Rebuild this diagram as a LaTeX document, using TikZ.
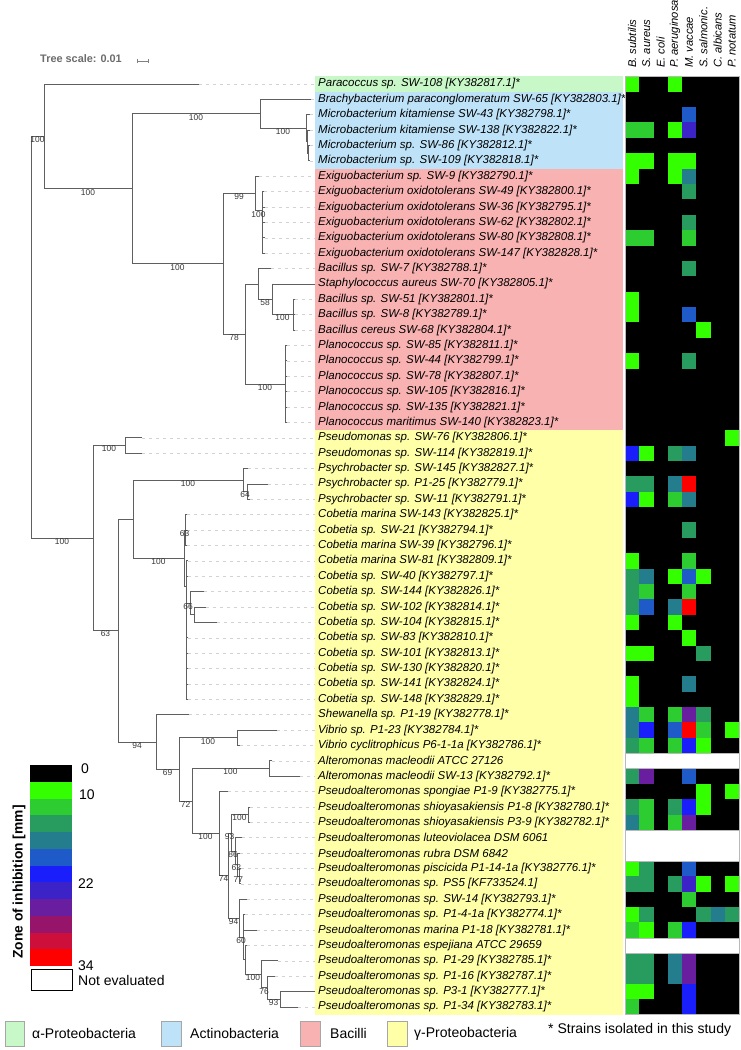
\documentclass[tikz,border=0pt]{standalone}
\usepackage{fontspec}
\setmainfont{Liberation Sans}
\usetikzlibrary{calc}
\definecolor{brc}{RGB}{95,95,95}
\definecolor{guidec}{RGB}{210,210,210}
\definecolor{bslc}{RGB}{55,55,55}
\definecolor{alphaC}{RGB}{200,248,200}
\definecolor{actC}{RGB}{190,226,248}
\definecolor{bacC}{RGB}{248,178,178}
\definecolor{gamC}{RGB}{255,255,168}
\definecolor{hm1}{RGB}{51,255,0}
\definecolor{hm2}{RGB}{45,205,50}
\definecolor{hm3}{RGB}{40,155,95}
\definecolor{hm4}{RGB}{35,125,140}
\definecolor{hm5}{RGB}{30,90,200}
\definecolor{hm6}{RGB}{25,30,250}
\definecolor{hm7}{RGB}{60,35,200}
\definecolor{hm8}{RGB}{105,30,160}
\definecolor{hm9}{RGB}{150,20,105}
\definecolor{hm10}{RGB}{205,15,60}
\definecolor{hm11}{RGB}{255,0,0}
\newcommand{\tvl}[3]{\draw[br] (#1 |- #2) -- (#1 |- #3);}
\newcommand{\thb}[2]{\draw[br] (#1 |- #2) -- (#2);}
\newcommand{\tbs}[3]{\path ($(#1 |- #2)!0.5!(#2)$) node[bsl] {#3};}
\begin{document}
\begin{tikzpicture}[x=1pt,y=-1pt,
  br/.style={draw=brc,line width=0.9pt,line cap=rect},
  bsl/.style={font=\fontsize{8.4}{9}\selectfont,text=bslc,inner sep=0.2pt,anchor=north},
  lbl/.style={font=\fontsize{11.5}{13}\selectfont\itshape,anchor=west,inner sep=0pt,text=black},
  hdr/.style={font=\fontsize{11.2}{12}\selectfont\itshape,anchor=west,inner sep=0pt,rotate=90},
  guide/.style={draw=guidec,line width=0.6pt,dash pattern=on 3pt off 4pt},
  leg/.style={font=\fontsize{14}{16}\selectfont,anchor=west,inner sep=0pt},
  legbox/.style={draw=gray!70,line width=0.6pt}]
\fill[white] (0,0) rectangle (740,1050);
\useasboundingbox (0,0) rectangle (740,1050);

% tree scale
\node[font=\bfseries\fontsize{10.9}{12}\selectfont,text=gray!85!black,anchor=west,inner sep=0pt] (ts) at (40,59) {Tree scale: 0.01};
\coordinate (sb1) at (137,61); \coordinate (sb2) at (148,61);
\draw[gray,line width=0.6pt] (sb1) -- (sb2);
\draw[gray,line width=0.6pt] ($(sb1)+(0,-2)$) -- ($(sb1)+(0,2)$);
\draw[gray,line width=0.6pt] ($(sb2)+(0,-2)$) -- ($(sb2)+(0,2)$);

% label bands
\fill[alphaC] (315,76.31) rectangle (623,91.69);
\fill[actC] (315,91.69) rectangle (623,168.61);
\fill[bacC] (315,168.61) rectangle (623,430.11);
\fill[gamC] (315,430.11) rectangle (623,1014.69);

% tips and guide lines
\foreach \i/\x in {1/199,2/311,3/309.5,4/309.5,5/309.5,6/309.5,7/259,8/264,9/264.5,10/264.5,11/264.5,12/264.5,13/271,14/315,15/295,16/295,17/295,18/287,19/287,20/287,21/287,22/287,23/287,24/142,25/142,26/248,27/268,28/250,29/187,30/187,31/187,32/188,33/188,34/204,35/206,36/217,37/188,38/188,39/188,40/188,41/188,42/189,43/277,44/240,45/272,46/300,47/228,48/250,49/250,50/242,51/240,52/241,53/241,54/247,55/245,56/257,57/247,58/278,59/275,60/315,61/298}
{\coordinate (t\i) at (\x,{84+(\i-1)*15.3833});
 \coordinate (g\i) at (315,{84+(\i-1)*15.3833});
 \draw[guide] (t\i) -- (g\i);}

% internal nodes
\coordinate (R) at (31,337);
\coordinate (A) at (44,136.4);
\coordinate (B) at (132,188.8);
\coordinate (C) at (260,113.8);
\coordinate (M) at (306,128.3);
\coordinate (M2) at (307,141.7);
\coordinate (M3) at (308,153.2);
\coordinate (D) at (223,263.8);
\coordinate (E) at (255,193.6);
\coordinate (E2) at (262,210.9);
\coordinate (E3) at (262.8,230.2);
\coordinate (F) at (245,334);
\coordinate (H) at (258,284.0);
\coordinate (I) at (272,299.4);
\coordinate (J) at (293,314.7);
\coordinate (P) at (285,384.0);
\coordinate (G) at (93,538.1);
\coordinate (K) at (125,445.5);
\coordinate (L) at (118,630.6);
\coordinate (N) at (133,519.0);
\coordinate (O) at (243,480.1);
\coordinate (O2) at (247,491.7);
\coordinate (Q) at (184,558);
\coordinate (Qa) at (185,530.1);
\coordinate (Qb) at (186,586);
\coordinate (Qc) at (190,603.2);
\coordinate (Qd) at (194,614.7);
\coordinate (S) at (156,742.1);
\coordinate (T) at (179,769.5);
\coordinate (U) at (237,737.8);
\coordinate (V) at (192,801.1);
\coordinate (W) at (269,768.5);
\coordinate (P0) at (219,833.6);
\coordinate (P1) at (228,875.7);
\coordinate (Pa) at (231,833.0);
\coordinate (Ep) at (248,814.7);
\coordinate (Pc) at (235,851.3);
\coordinate (Pd) at (237.5,864.7);
\coordinate (Pe) at (239,876.2);
\coordinate (Pb) at (239,918.3);
\coordinate (Pf) at (243,937.3);
\coordinate (Ph) at (245,959.9);
\coordinate (Pg) at (261,974.3);
\coordinate (Pi) at (267,987.8);
\coordinate (Pj) at (280,999.3);

% branches
\tvl{R}{A}{G} \thb{R}{A} \thb{R}{G}
\tvl{A}{t1}{B} \thb{A}{t1} \thb{A}{B}
\tvl{B}{C}{D} \thb{B}{C} \thb{B}{D}
\tvl{C}{t2}{M} \thb{C}{t2} \thb{C}{M}
\tvl{M}{t3}{M2} \thb{M}{t3} \thb{M}{M2}
\tvl{M2}{t4}{M3} \thb{M2}{t4} \thb{M2}{M3}
\tvl{M3}{t5}{t6} \thb{M3}{t5} \thb{M3}{t6}
\tvl{D}{E}{F} \thb{D}{E} \thb{D}{F}
\tvl{E}{t7}{E2} \thb{E}{t7} \thb{E}{E2}
\tvl{E2}{t8}{E3} \thb{E2}{t8} \thb{E2}{E3}
\tvl{E3}{t9}{t12} \thb{E3}{t9} \thb{E3}{t10} \thb{E3}{t11} \thb{E3}{t12}
\tvl{F}{H}{P} \thb{F}{H} \thb{F}{P}
\tvl{H}{t13}{I} \thb{H}{t13} \thb{H}{I}
\tvl{I}{t14}{J} \thb{I}{t14} \thb{I}{J}
\tvl{J}{t15}{t17} \thb{J}{t15} \thb{J}{t16} \thb{J}{t17}
\tvl{P}{t18}{t23} \thb{P}{t18} \thb{P}{t19} \thb{P}{t20} \thb{P}{t21} \thb{P}{t22} \thb{P}{t23}
\tvl{G}{K}{L} \thb{G}{K} \thb{G}{L}
\tvl{K}{t24}{t25} \thb{K}{t24} \thb{K}{t25}
\tvl{L}{N}{S} \thb{L}{N} \thb{L}{S}
\tvl{N}{O}{Q} \thb{N}{O} \thb{N}{Q}
\tvl{O}{t26}{O2} \thb{O}{t26} \thb{O}{O2}
\tvl{O2}{t27}{t28} \thb{O2}{t27} \thb{O2}{t28}
\tvl{Q}{Qa}{Qb} \thb{Q}{Qa} \thb{Q}{Qb}
\tvl{Qa}{t29}{t31} \thb{Qa}{t29} \thb{Qa}{t30} \thb{Qa}{t31}
\tvl{Qb}{t32}{t41} \thb{Qb}{t32} \thb{Qb}{t33} \thb{Qb}{Qc} \thb{Qb}{t37} \thb{Qb}{t38} \thb{Qb}{t39} \thb{Qb}{t40} \thb{Qb}{t41}
\tvl{Qc}{t34}{Qd} \thb{Qc}{t34} \thb{Qc}{Qd}
\tvl{Qd}{t35}{t36} \thb{Qd}{t35} \thb{Qd}{t36}
\tvl{S}{t42}{T} \thb{S}{t42} \thb{S}{T}
\tvl{T}{U}{V} \thb{T}{U} \thb{T}{V}
\tvl{U}{t43}{t44} \thb{U}{t43} \thb{U}{t44}
\tvl{V}{W}{P0} \thb{V}{W} \thb{V}{P0}
\tvl{W}{t45}{t46} \thb{W}{t45} \thb{W}{t46}
\tvl{P0}{t47}{P1} \thb{P0}{t47} \thb{P0}{P1}
\tvl{P1}{Pa}{Pb} \thb{P1}{Pa} \thb{P1}{Pb}
\tvl{Pa}{Ep}{Pc} \thb{Pa}{Ep} \thb{Pa}{Pc}
\tvl{Ep}{t48}{t49} \thb{Ep}{t48} \thb{Ep}{t49}
\tvl{Pc}{t50}{Pd} \thb{Pc}{t50} \thb{Pc}{Pd}
\tvl{Pd}{t51}{Pe} \thb{Pd}{t51} \thb{Pd}{Pe}
\tvl{Pe}{t52}{t53} \thb{Pe}{t52} \thb{Pe}{t53}
\tvl{Pb}{t54}{Pf} \thb{Pb}{t54} \thb{Pb}{Pf}
\tvl{Pf}{t55}{Ph} \thb{Pf}{t55} \thb{Pf}{t56} \thb{Pf}{Ph}
\tvl{Ph}{t57}{Pg} \thb{Ph}{t57} \thb{Ph}{Pg}
\tvl{Pg}{t58}{Pi} \thb{Pg}{t58} \thb{Pg}{Pi}
\tvl{Pi}{t59}{Pj} \thb{Pi}{t59} \thb{Pi}{Pj}
\tvl{Pj}{t60}{t61} \thb{Pj}{t60} \thb{Pj}{t61}

% bootstrap values
\tbs{R}{A}{100} \tbs{A}{B}{100} \tbs{B}{C}{100} \tbs{C}{M}{100} \tbs{B}{D}{100}
\tbs{D}{E}{99} \tbs{E}{E2}{100} \tbs{D}{F}{78} \tbs{H}{I}{58} \tbs{I}{J}{100}
\tbs{F}{P}{100} \tbs{R}{G}{100} \tbs{G}{K}{100} \tbs{G}{L}{63} \tbs{N}{O}{100}
\tbs{O}{O2}{64} \tbs{N}{Q}{100} \tbs{Q}{Qa}{63} \tbs{Qb}{Qc}{66} \tbs{L}{S}{94}
\tbs{S}{T}{69} \tbs{T}{U}{100} \tbs{T}{V}{72} \tbs{V}{W}{100} \tbs{V}{P0}{100}
\tbs{P0}{P1}{74} \tbs{P1}{Pa}{93} \tbs{Pa}{Ep}{100} \tbs{Pa}{Pc}{86} \tbs{Pc}{Pd}{62}
\tbs{Pd}{Pe}{77} \tbs{P1}{Pb}{94} \tbs{Pb}{Pf}{60} \tbs{Ph}{Pg}{100} \tbs{Pg}{Pi}{76}
\tbs{Pi}{Pj}{93}

% taxon labels
\foreach \lab [count=\i] in {
{Paracoccus sp. SW-108 [KY382817.1]*},
{Brachybacterium paraconglomeratum SW-65 [KY382803.1]*},
{Microbacterium kitamiense SW-43 [KY382798.1]*},
{Microbacterium kitamiense SW-138 [KY382822.1]*},
{Microbacterium sp. SW-86 [KY382812.1]*},
{Microbacterium sp. SW-109 [KY382818.1]*},
{Exiguobacterium sp. SW-9 [KY382790.1]*},
{Exiguobacterium oxidotolerans SW-49 [KY382800.1]*},
{Exiguobacterium oxidotolerans SW-36 [KY382795.1]*},
{Exiguobacterium oxidotolerans SW-62 [KY382802.1]*},
{Exiguobacterium oxidotolerans SW-80 [KY382808.1]*},
{Exiguobacterium oxidotolerans SW-147 [KY382828.1]*},
{Bacillus sp. SW-7 [KY382788.1]*},
{Staphylococcus aureus SW-70 [KY382805.1]*},
{Bacillus sp. SW-51 [KY382801.1]*},
{Bacillus sp. SW-8 [KY382789.1]*},
{Bacillus cereus SW-68 [KY382804.1]*},
{Planococcus sp. SW-85 [KY382811.1]*},
{Planococcus sp. SW-44 [KY382799.1]*},
{Planococcus sp. SW-78 [KY382807.1]*},
{Planococcus sp. SW-105 [KY382816.1]*},
{Planococcus sp. SW-135 [KY382821.1]*},
{Planococcus maritimus SW-140 [KY382823.1]*},
{Pseudomonas sp. SW-76 [KY382806.1]*},
{Pseudomonas sp. SW-114 [KY382819.1]*},
{Psychrobacter sp. SW-145 [KY382827.1]*},
{Psychrobacter sp. P1-25 [KY382779.1]*},
{Psychrobacter sp. SW-11 [KY382791.1]*},
{Cobetia marina SW-143 [KY382825.1]*},
{Cobetia sp. SW-21 [KY382794.1]*},
{Cobetia marina SW-39 [KY382796.1]*},
{Cobetia marina SW-81 [KY382809.1]*},
{Cobetia sp. SW-40 [KY382797.1]*},
{Cobetia sp. SW-144 [KY382826.1]*},
{Cobetia sp. SW-102 [KY382814.1]*},
{Cobetia sp. SW-104 [KY382815.1]*},
{Cobetia sp. SW-83 [KY382810.1]*},
{Cobetia sp. SW-101 [KY382813.1]*},
{Cobetia sp. SW-130 [KY382820.1]*},
{Cobetia sp. SW-141 [KY382824.1]*},
{Cobetia sp. SW-148 [KY382829.1]*},
{Shewanella sp. P1-19 [KY382778.1]*},
{Vibrio sp. P1-23 [KY382784.1]*},
{Vibrio cyclitrophicus P6-1-1a [KY382786.1]*},
{Alteromonas macleodii ATCC 27126},
{Alteromonas macleodii SW-13 [KY382792.1]*},
{Pseudoalteromonas spongiae P1-9 [KY382775.1]*},
{Pseudoalteromonas shioyasakiensis P1-8 [KY382780.1]*},
{Pseudoalteromonas shioyasakiensis P3-9 [KY382782.1]*},
{Pseudoalteromonas luteoviolacea DSM 6061},
{Pseudoalteromonas rubra DSM 6842},
{Pseudoalteromonas piscicida P1-14-1a [KY382776.1]*},
{Pseudoalteromonas sp. PS5 [KF733524.1]},
{Pseudoalteromonas sp. SW-14 [KY382793.1]*},
{Pseudoalteromonas sp. P1-4-1a [KY382774.1]*},
{Pseudoalteromonas marina P1-18 [KY382781.1]*},
{Pseudoalteromonas espejiana ATCC 29659},
{Pseudoalteromonas sp. P1-29 [KY382785.1]*},
{Pseudoalteromonas sp. P1-16 [KY382787.1]*},
{Pseudoalteromonas sp. P3-1 [KY382777.1]*},
{Pseudoalteromonas sp. P1-34 [KY382783.1]*}}
{\node[lbl] (lab\i) at (318,{84+(\i-1)*15.3833}) {\lab};}

% heatmap
\fill[black] (625,76.31) rectangle (739,1014.69);
\foreach \r/\c/\k in {1/1/1,1/4/1,3/5/5,4/1/2,4/2/2,4/4/1,4/5/7,6/1/1,6/2/1,6/4/1,6/5/1,
7/1/1,7/4/1,7/5/4,8/5/3,10/5/3,11/1/2,11/2/2,11/5/2,13/5/3,15/1/1,16/1/1,16/5/5,17/6/1,
19/1/1,19/5/3,24/8/1,25/1/6,25/2/1,25/4/3,25/5/4,27/1/3,27/2/3,27/4/4,27/5/11,
28/1/6,28/2/1,28/4/2,28/5/4,30/5/3,32/1/1,32/5/2,33/1/3,33/2/4,33/4/1,33/5/5,33/6/1,
34/1/3,34/2/2,34/5/2,35/1/3,35/2/5,35/4/4,35/5/11,36/1/1,36/4/1,37/5/1,38/1/1,38/2/1,38/6/3,
40/1/1,40/5/4,41/1/1,42/1/4,42/2/2,42/4/2,42/5/8,42/6/3,43/1/4,43/2/6,43/4/5,43/5/11,43/6/2,43/8/1,
44/1/3,44/2/2,44/4/2,44/5/6,44/6/1,46/1/3,46/2/8,46/5/5,47/6/1,47/8/1,
48/1/3,48/2/2,48/4/3,48/5/6,48/6/1,49/1/4,49/2/2,49/4/2,49/5/8,52/1/1,52/2/3,52/5/5,
53/1/3,53/2/3,53/4/3,53/5/7,53/6/1,53/8/1,54/5/2,55/1/1,55/2/3,55/6/3,55/7/4,55/8/3,
56/1/2,56/2/1,56/4/2,56/5/6,58/1/3,58/2/3,58/4/4,58/5/8,59/1/3,59/2/3,59/4/4,59/5/8,
60/1/1,60/2/1,60/5/6,61/1/2,61/5/6}
{\fill[hm\k] ({625+(\c-1)*14.25},{76.31+(\r-1)*15.3833}) rectangle ++(14.25,15.3833);}
\foreach \r/\n in {45/1,50/2,57/1}
{\filldraw[fill=white,draw=gray!55,line width=0.5pt] (625,{76.31+(\r-1)*15.3833}) rectangle ++(114,{\n*15.3833});}
\draw[gray!55,line width=0.5pt] (625,76.31) rectangle (739,1014.69);

% column headers
\foreach \h [count=\c] in {B. subtilis,S. aureus,E. coli,P. aeruginosa,M. vaccae,S. salmonic.,C. albicans,P. notatum}
{\node[hdr] (hd\c) at ({625+(\c-0.5)*14.25},68) {\h};}

% colour bar legend
\fill[black] (30,765) rectangle (72,781.75);
\foreach \k in {1,...,11}
{\fill[hm\k] (30,{765+\k*16.75}) rectangle (72,{765+(\k+1)*16.75});}
\node[leg] (v0) at (81,769) {0};
\node[leg] (v10) at (79,795) {10};
\node[leg] (v22) at (78,884) {22};
\node[leg] (v34) at (78,966) {34};
\draw[black,line width=0.8pt] (31,969.5) rectangle (72,990);
\node[leg] (ne) at (78,980) {Not evaluated};
\node[font=\bfseries\fontsize{13.8}{15}\selectfont,rotate=90,inner sep=0pt] (zl) at (19,882) {Zone of inhibition [mm]};

% bottom legend
\draw[legbox,fill=alphaC] (5,1021) rectangle (24,1046);
\node[leg] (l1) at (32,1033.5) {α-Proteobacteria};
\draw[legbox,fill=actC] (161,1021) rectangle (181,1046);
\node[leg] (l2) at (190,1033.5) {Actinobacteria};
\draw[legbox,fill=bacC] (300,1021) rectangle (320,1046);
\node[leg] (l3) at (330,1033.5) {Bacilli};
\draw[legbox,fill=gamC] (387,1021) rectangle (407,1046);
\node[leg] (l4) at (414,1033.5) {γ-Proteobacteria};
\node[leg] (l5) at (548,1030) {* Strains isolated in this study};
\end{tikzpicture}
\end{document}
